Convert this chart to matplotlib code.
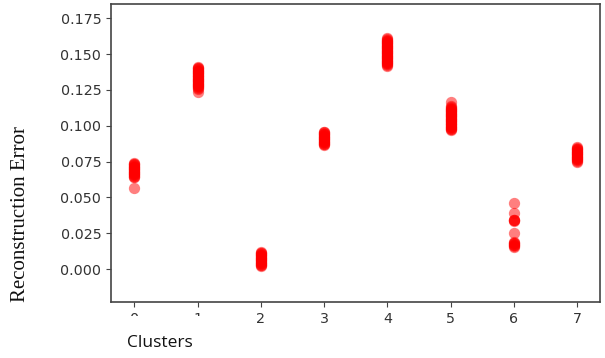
import matplotlib
matplotlib.use("Agg")
import matplotlib.pyplot as plt
from matplotlib.patches import Rectangle

# reconstruction error per cluster
clusters = [0, 1, 2, 3, 4, 5, 6, 7]
c0 = [0.0563, 0.064, 0.0645, 0.065, 0.0655, 0.066, 0.0665, 0.067, 0.0675, 0.068, 0.0685, 0.069, 0.0695,
      0.070, 0.0705, 0.071, 0.0715, 0.072, 0.0725, 0.073, 0.0735, 0.074]
c1 = [0.1235, 0.126, 0.1265, 0.127, 0.1275, 0.128, 0.1285, 0.129, 0.1295, 0.130, 0.1305, 0.131, 0.1315,
      0.132, 0.1325, 0.133, 0.1335, 0.134, 0.1345, 0.135, 0.1355, 0.136, 0.1365, 0.137, 0.1375, 0.138,
      0.1385, 0.139, 0.1395, 0.140, 0.1405, 0.141]
c2 = [0.002, 0.0025, 0.003, 0.0035, 0.004, 0.0045, 0.005, 0.0055, 0.006, 0.0065, 0.007, 0.0075, 0.008,
      0.0085, 0.009, 0.0095, 0.010, 0.0105, 0.011, 0.0115, 0.012]
c3 = [0.0866, 0.087, 0.0875, 0.088, 0.0885, 0.089, 0.0895, 0.090, 0.0905, 0.091, 0.0915, 0.092, 0.0925,
      0.093, 0.0935, 0.094, 0.0945, 0.095, 0.0955, 0.096]
c4 = [0.142, 0.1425, 0.143, 0.1435, 0.144, 0.1445, 0.145, 0.1455, 0.146, 0.1465, 0.147, 0.1475, 0.148,
      0.1485, 0.149, 0.1495, 0.150, 0.1505, 0.151, 0.1515, 0.152, 0.1525, 0.153, 0.1535, 0.154, 0.1545,
      0.155, 0.1555, 0.156, 0.1565, 0.157, 0.1575, 0.158, 0.1585, 0.159, 0.1595, 0.160, 0.1605, 0.161]
c5 = [0.097, 0.0975, 0.098, 0.0985, 0.099, 0.0995, 0.100, 0.1005, 0.101, 0.1015, 0.102, 0.1025, 0.103,
      0.1035, 0.104, 0.1045, 0.105, 0.1055, 0.106, 0.1065, 0.107, 0.1075, 0.108, 0.1085, 0.109, 0.1095,
      0.110, 0.1105, 0.111, 0.1115, 0.112, 0.1125, 0.113, 0.114, 0.1166]
c6 = [0.0458, 0.039, 0.0345, 0.0335, 0.034, 0.0345, 0.025, 0.0155, 0.016, 0.0165, 0.017, 0.0175, 0.018,
      0.0185, 0.019]
c7 = [0.075, 0.0755, 0.076, 0.0765, 0.077, 0.0775, 0.078, 0.0785, 0.079, 0.0795, 0.080, 0.0805, 0.081,
      0.0815, 0.082, 0.0825, 0.083, 0.0835, 0.084, 0.0845, 0.085]
errors = [c0, c1, c2, c3, c4, c5, c6, c7]

fig = plt.figure(figsize=(6.05, 3.58), dpi=100)
ax = fig.add_axes([0.1835, 0.1564, 0.8082, 0.8324])

for k, vals in zip(clusters, errors):
    ax.scatter([k] * len(vals), vals, color="red", alpha=0.5, s=66, linewidths=0)

ax.set_xlim(-0.37, 7.36)
ax.set_ylim(-0.023, 0.185)
ax.set_xticks(clusters)
ax.set_yticks([0.0, 0.025, 0.05, 0.075, 0.1, 0.125, 0.15, 0.175])
ax.set_yticklabels(["0.000", "0.025", "0.050", "0.075", "0.100", "0.125", "0.150", "0.175"])
ax.tick_params(labelsize=10.3, colors="#444444", labelcolor="#333333")
for sp in ax.spines.values():
    sp.set_color("#444444")
    sp.set_linewidth(1.2)

# white box pasted over the bottom of the first tick labels
fig.patches.append(Rectangle((100 / 605, 0), 130 / 605, 42 / 358, transform=fig.transFigure,
                             facecolor="white", edgecolor="none", zorder=5))
fig.text(160 / 605, 1 - 343 / 358, "Clusters", ha="center", va="center",
         family="Open Sans", fontsize=12.5, color="#111111", zorder=6)
fig.text(21 / 605, 1 - 214 / 358, "Reconstruction Error", ha="center", va="center",
         rotation=90, family="Liberation Serif", fontsize=15, color="#111111")

fig.savefig("out.png", dpi=100)
